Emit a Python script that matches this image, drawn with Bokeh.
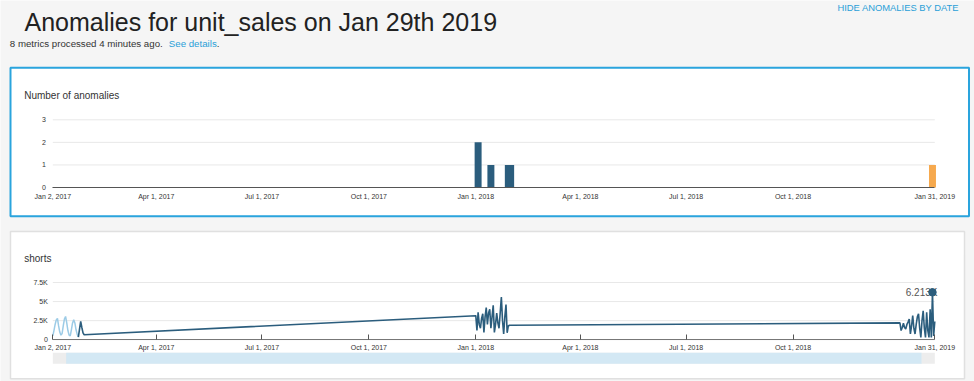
import pandas as pd
from bokeh.plotting import figure
from bokeh.models import Range1d, LinearAxis, FixedTicker
from bokeh.core.properties import value
from bokeh.embed import file_html
from bokeh.resources import INLINE

# ---------------- data ----------------
title_text = "Anomalies for unit_sales on Jan 29th 2019"
subtitle_text = "8 metrics processed 4 minutes ago. "
link_text = "See details"
hide_text = "HIDE ANOMALIES BY DATE"
panel1_title = "Number of anomalies"
panel2_title = "shorts"

date_start = "2017-01-02"
date_end = "2019-01-31"
x_tick_dates = ["2017-01-02", "2017-04-01", "2017-07-01", "2017-10-01", "2018-01-01",
                "2018-04-01", "2018-07-01", "2018-10-01", "2019-01-31"]
x_tick_labels = ["Jan 2, 2017", "Apr 1, 2017", "Jul 1, 2017", "Oct 1, 2017", "Jan 1, 2018",
                 "Apr 1, 2018", "Jul 1, 2018", "Oct 1, 2018", "Jan 31, 2019"]

# anomaly count bins
anom_left = ["2017-12-31", "2018-01-11", "2018-01-26"]
anom_right = ["2018-01-06", "2018-01-17", "2018-02-03"]
anom_count = [2, 1, 1]
latest_left = ["2019-01-26"]
latest_right = ["2019-02-01"]
latest_count = [1]
count_ticks = [0, 1, 2, 3]
count_labels = ["0", "1", "2", "3"]

# shorts daily unit sales
sales_ticks = [0, 2500, 5000, 7500]
sales_labels = ["0", "2.5K", "5K", "7.5K"]

jan2017_dates = pd.date_range("2017-01-02", "2017-01-29")
jan2017_values = [500, 1200, 2000, 2600, 2800, 1800, 1000, 600, 800, 1800, 2700, 3050, 2200, 1200,
                  600, 500, 1300, 2200, 2600, 2200, 1300, 700, 350, 1400, 2400, 1600, 900, 650]
jan2018_dates = pd.date_range("2018-01-01", "2018-01-31")
jan2018_values = [3150, 1200, 3600, 2000, 1500, 2800, 3400, 950, 3000, 4200, 2000, 3500, 4000, 1500,
                  3000, 4500, 950, 2000, 3500, 2200, 1500, 3500, 5600, 2500, 750, 3000, 4600, 900,
                  1800, 1900, 1900]
jan2019_dates = pd.date_range("2019-01-01", "2019-01-31")
jan2019_values = [2200, 1200, 1600, 2150, 1600, 1400, 2000, 2300, 2700, 750, 1800, 3150, 1500, 750,
                  2000, 3000, 3400, 1500, 300, 2500, 3800, 1500, 300, 3600, 1200, 300, 4000, 300,
                  6213, 500, 2400]
light_until = "2017-01-24"
highlight_label = "6.213K"
nav_start = "2017-01-13 12:00"
nav_end = "2019-01-19 14:00"

# ---------------- styling / layout ----------------
FONT = "Liberation Sans"
DARK = "#2b5d7d"
LIGHT = "#9ccbe6"
ORANGE = "#f6a94e"
BLUE = "#2aa4dd"
BG = "#f5f5f5"

W, H = 974, 381


def ms(d):
    return pd.Timestamp(d).value / 1e6


def msl(ds):
    return [ms(d) for d in ds]


t0, t1 = ms(date_start), ms(date_end)

p = figure(width=W, height=H, output_backend="svg", toolbar_location=None,
           x_range=Range1d(0, W), y_range=Range1d(H, 0),
           x_axis_type=None, y_axis_type=None, min_border=0,
           background_fill_color=BG, border_fill_color=BG, outline_line_color=None)

# date range: chart spans x 52.3 .. 934.3
X0, X1 = 52.3, 934.3
mpp = (t1 - t0) / (X1 - X0)
# count range: 0 at y 187, 3 at y 119.3
c0, c3 = 187.0, 119.3
cpp = 3 / (c0 - c3)
# sales range: 0 at y 339.2, 7500 at y 282
s0, s75 = 339.2, 282.0
spp = 7500 / (s0 - s75)
p.extra_x_ranges = {"date": Range1d(t0 - X0 * mpp, t0 + (W - X0) * mpp)}
p.extra_y_ranges = {
    "count": Range1d(0 - (H - c0) * cpp, 3 + c3 * cpp),
    "sales": Range1d(0 - (H - s0) * spp, 7500 + s75 * spp),
}

# panels
p.quad(left=[10], right=[968.5], top=[67.3], bottom=[215.7], fill_color="white",
       line_color=BLUE, line_width=2)
p.quad(left=[10], right=[964], top=[231], bottom=[378.3], fill_color="white",
       line_color="#e0e0e0", line_width=1.5)

# header texts
p.text(x=[24], y=[21.8], text=[title_text], text_font=value(FONT), text_font_size="25px",
       text_color="#222222", text_baseline="alphabetic")
p.text(x=[9.3], y=[43.4], text=[subtitle_text], text_font=value(FONT), text_font_size="9.7px",
       text_color="#333333", text_baseline="alphabetic")
p.text(x=[168.3], y=[43.4], text=[link_text], text_font=value(FONT), text_font_size="9.7px",
       text_color="#2a9fd8", text_baseline="alphabetic")
p.text(x=[216.2], y=[43.4], text=["."], text_font=value(FONT), text_font_size="9.7px",
       text_color="#333333", text_baseline="alphabetic")
p.text(x=[958.7], y=[7.3], text=[hide_text], text_font=value(FONT), text_font_size="9.4px",
       text_color="#2a9fd8", text_baseline="alphabetic", text_align="right")

# panel titles
p.text(x=[23.7], y=[95.3], text=[panel1_title], text_font=value(FONT), text_font_size="10px",
       text_color="#333333", text_baseline="alphabetic")
p.text(x=[23.7], y=[258.3], text=[panel2_title], text_font=value(FONT), text_font_size="10px",
       text_color="#333333", text_baseline="alphabetic")

# gridlines
p.segment(x0=[t0] * 3, x1=[t1] * 3, y0=count_ticks[1:], y1=count_ticks[1:],
          x_range_name="date", y_range_name="count", line_color="#e8e8e8", line_width=1)
p.segment(x0=[t0] * 4, x1=[t1] * 4, y0=sales_ticks, y1=sales_ticks,
          x_range_name="date", y_range_name="sales", line_color="#e8e8e8", line_width=1)

# anomaly bars
p.quad(left=msl(anom_left), right=msl(anom_right), bottom=0, top=anom_count,
       x_range_name="date", y_range_name="count", fill_color=DARK, line_color=None)
p.quad(left=msl(latest_left), right=msl(latest_right), bottom=0, top=latest_count,
       x_range_name="date", y_range_name="count", fill_color=ORANGE, line_color=None)

# sales line
all_dates = list(jan2017_dates) + list(jan2018_dates) + list(jan2019_dates)
all_values = jan2017_values + jan2018_values + jan2019_values
cut = pd.Timestamp(light_until)
light_x = [ms(d) for d in all_dates if d <= cut]
light_y = [v for d, v in zip(all_dates, all_values) if d <= cut]
dark_x = [ms(d) for d in all_dates if d >= cut]
dark_y = [v for d, v in zip(all_dates, all_values) if d >= cut]
p.line(x=light_x, y=light_y, x_range_name="date", y_range_name="sales",
       line_color=LIGHT, line_width=1.5)
p.line(x=dark_x, y=dark_y, x_range_name="date", y_range_name="sales",
       line_color=DARK, line_width=1.6)

hi = max(range(len(all_values)), key=lambda i: all_values[i])
p.text(x=[ms(all_dates[hi])], y=[all_values[hi]], text=[highlight_label], x_offset=5, y_offset=0,
       x_range_name="date", y_range_name="sales", text_align="right", text_baseline="alphabetic",
       text_font=value(FONT), text_font_size="10px", text_color="#555555")
p.scatter(x=[ms(all_dates[hi])], y=[all_values[hi]], size=7.5, color=DARK,
          x_range_name="date", y_range_name="sales")

# navigator
p.quad(left=[t0], right=[t1], top=[352.3], bottom=[363.3], x_range_name="date",
       fill_color="#ededed", line_color=None)
p.quad(left=[ms(nav_start)], right=[ms(nav_end)], top=[352.3], bottom=[363.3],
       x_range_name="date", fill_color="#d3e8f4", line_color=None)

# axes
x_tick_ms = [int(ms(d)) for d in x_tick_dates]
x_over = dict(zip(x_tick_ms, x_tick_labels))


def style(ax):
    ax.major_label_text_font = FONT
    ax.major_label_text_font_size = "7px"
    ax.major_label_text_color = "#333333"
    ax.minor_tick_line_color = None
    ax.minor_tick_in = 0
    ax.minor_tick_out = 0


ax1 = LinearAxis(x_range_name="date", y_range_name="count", fixed_location=0,
                 ticker=FixedTicker(ticks=x_tick_ms), major_label_overrides=x_over,
                 bounds=(t0 - 1, t1 + 1), axis_line_color="#555555", axis_line_width=1.2,
                 major_tick_line_color=None, major_tick_in=0, major_tick_out=0,
                 major_label_standoff=5)
style(ax1)
p.add_layout(ax1, "below")

ax2 = LinearAxis(x_range_name="date", y_range_name="sales", fixed_location=0,
                 ticker=FixedTicker(ticks=x_tick_ms), major_label_overrides=x_over,
                 bounds=(t0 - 1, t1 + 1), axis_line_color="#777777", axis_line_width=1,
                 major_tick_line_color="#555555", major_tick_in=5, major_tick_out=0,
                 major_label_standoff=4)
style(ax2)
p.add_layout(ax2, "below")

ay1 = LinearAxis(x_range_name="date", y_range_name="count", fixed_location=t0,
                 ticker=FixedTicker(ticks=count_ticks),
                 major_label_overrides=dict(zip(count_ticks, count_labels)),
                 axis_line_color=None, major_tick_line_color=None, major_tick_in=0,
                 major_tick_out=0, major_label_standoff=7)
style(ay1)
p.add_layout(ay1, "left")

ay2 = LinearAxis(x_range_name="date", y_range_name="sales", fixed_location=t0,
                 ticker=FixedTicker(ticks=sales_ticks),
                 major_label_overrides=dict(zip(sales_ticks, sales_labels)),
                 axis_line_color=None, major_tick_line_color=None, major_tick_in=0,
                 major_tick_out=0, major_label_standoff=5)
style(ay2)
p.add_layout(ay2, "left")

open("out.html", "w").write(file_html(p, INLINE))
